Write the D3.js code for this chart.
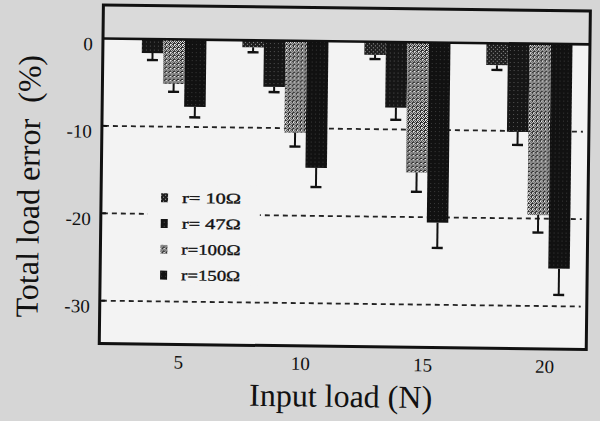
<!DOCTYPE html>
<html><head><meta charset="utf-8">
<script src="https://cdn.jsdelivr.net/npm/d3@7"></script>
<style>html,body{margin:0;padding:0;background:#d6d6d6;}svg{display:block;}</style>
</head><body>
<script>
// ---- data ----
const loads = [5, 10, 15, 20];
const seriesNames = ["r= 10Ω", "r= 47Ω", "r=100Ω", "r=150Ω"];
const r10  = [0, -0.8, -1.5, -2.5];
const r47  = [-1.6, -5.3, -7.5, -10.1];
const r100 = [-5.1, -10.5, -14.9, -19.6];
const r150 = [-7.7, -14.5, -20.6, -25.7];
const err10  = [0, 0.57, 0.47, 0.55];
const err47  = [0.8, 0.6, 1.4, 1.5];
const err100 = [0.9, 1.6, 2.2, 2.0];
const err150 = [1.2, 2.2, 2.9, 3.0];
const yTicks = [0, -10, -20, -30];
const refLines = [-10, -20, -30];
const xTitle = "Input load (N)";
const yTitle = "Total load error  (%)";

const values = [r10, r47, r100, r150];
const errors = [err10, err47, err100, err150];
const fills = ["url(#p10)", "url(#p47)", "url(#p100)", "url(#p150)"];

const W = 600, H = 421;
const L = 103, R = 590, T = 5, B = 343.5;
const font = "'Liberation Serif','Times New Roman',serif";

const svg = d3.select("body").append("svg").attr("width", W).attr("height", H);
svg.append("rect").attr("width", W).attr("height", H).attr("fill", "#d6d6d6");

// patterns (texture of the printed bars)
const defs = svg.append("defs");
function pat(id, bg, fg, dots) {
  const p = defs.append("pattern").attr("id", id).attr("patternUnits", "userSpaceOnUse")
    .attr("width", 4).attr("height", 4);
  p.append("rect").attr("width", 4).attr("height", 4).attr("fill", bg);
  dots.forEach(([dx, dy]) => p.append("rect").attr("x", dx).attr("y", dy)
    .attr("width", 1).attr("height", 1).attr("fill", fg));
}
pat("p10", "#1e1e1e", "#9a9a9a", [[1, 0], [3, 2]]);
pat("p47", "#151515", "#555", [[2, 1]]);
pat("p100", "#202020", "#f0f0f0", [[0, 0], [2, 0], [1, 1], [3, 1], [0, 2], [2, 3], [3, 3]]);
pat("p150", "#111", "#3a3a3a", [[0, 3]]);

const g = svg.append("g").attr("transform", "rotate(0.7,103,38)");

const y = d3.scaleLinear().domain([3.83, -34.9]).range([T, B]);
const x0 = d3.scaleBand().domain(loads).range([L, R]).paddingInner(0.295).paddingOuter(0.143);
const x1 = d3.scaleBand().domain(seriesNames).range([0, x0.bandwidth()]);

// plot background
g.append("rect").attr("x", L).attr("y", T).attr("width", R - L).attr("height", y(0) - T).attr("fill", "#dadada");
g.append("rect").attr("x", L).attr("y", y(0)).attr("width", R - L).attr("height", B - y(0)).attr("fill", "#f3f3f3");

// dashed reference lines
g.selectAll("line.ref").data(refLines).join("line").attr("class", "ref")
  .attr("x1", L + 2).attr("x2", R - 6)
  .attr("y1", d => y(d)).attr("y2", d => y(d))
  .attr("stroke", "#222").attr("stroke-width", 1.8).attr("stroke-dasharray", "5,4");

// legend background + entries
const lg = g.append("g");
lg.append("rect").attr("x", 150).attr("y", 184).attr("width", 112).attr("height", 100).attr("fill", "#f3f3f3");
seriesNames.forEach((s, i) => {
  const cy = 197 + i * 25.8;
  lg.append("rect").attr("x", 163).attr("y", cy - 4.5).attr("width", 7).attr("height", 9).attr("fill", fills[i]);
  lg.append("text").attr("x", 184).attr("y", cy + 5).text(s)
    .attr("font-family", font).attr("font-size", 15).attr("fill", "#111")
    .attr("stroke", "#111").attr("stroke-width", 0.35)
    .attr("textLength", 59).attr("lengthAdjust", "spacingAndGlyphs")
    .style("white-space", "pre");
});

// bars
seriesNames.forEach((s, i) => {
  const gs = g.append("g");
  gs.selectAll("rect").data(loads).join("rect")
    .attr("x", d => x0(d) + x1(s))
    .attr("width", x1.bandwidth())
    .attr("y", y(0))
    .attr("height", (d, j) => y(values[i][j]) - y(0))
    .attr("fill", fills[i]);
  const eb = loads.map((d, j) => ({ d, v: values[i][j], e: errors[i][j] })).filter(o => o.e > 0);
  const cx = o => x0(o.d) + x1(s) + x1.bandwidth() / 2;
  gs.selectAll("line.ev").data(eb).join("line").attr("class", "ev")
    .attr("x1", cx).attr("x2", cx)
    .attr("y1", o => y(o.v)).attr("y2", o => y(o.v - o.e))
    .attr("stroke", "#111").attr("stroke-width", 2);
  gs.selectAll("line.ec").data(eb).join("line").attr("class", "ec")
    .attr("x1", o => cx(o) - 5.5).attr("x2", o => cx(o) + 5.5)
    .attr("y1", o => y(o.v - o.e)).attr("y2", o => y(o.v - o.e))
    .attr("stroke", "#111").attr("stroke-width", 2.4);
});

// zero line
g.append("line").attr("x1", L).attr("x2", R).attr("y1", y(0)).attr("y2", y(0))
  .attr("stroke", "#111").attr("stroke-width", 2.6);

// frame
g.append("rect").attr("x", L).attr("y", T).attr("width", R - L).attr("height", B - T)
  .attr("fill", "none").attr("stroke", "#111").attr("stroke-width", 3);

// y ticks
g.selectAll("line.yt").data(yTicks.filter(d => d !== 0)).join("line").attr("class", "yt")
  .attr("x1", L).attr("x2", L + 5).attr("y1", d => y(d)).attr("y2", d => y(d))
  .attr("stroke", "#111").attr("stroke-width", 2);
g.selectAll("text.yl").data(yTicks).join("text").attr("class", "yl")
  .attr("x", 93).attr("y", d => y(d) + 12).attr("text-anchor", "end")
  .attr("font-family", font).attr("font-size", 19).attr("fill", "#111")
  .text(d => d === 0 ? "0" : "-" + Math.abs(d));

// x labels
g.selectAll("text.xl").data(loads).join("text").attr("class", "xl")
  .attr("x", d => x0(d) + x0.bandwidth() * 0.72).attr("y", 367.5).attr("text-anchor", "middle")
  .attr("font-family", font).attr("font-size", 19).attr("fill", "#111")
  .text(d => d);

// titles
g.append("text").attr("x", 345).attr("y", 404).attr("text-anchor", "middle")
  .attr("font-family", font).attr("font-size", 32).attr("fill", "#111").text(xTitle);
g.append("text").attr("transform", "translate(41,187) rotate(-90)").attr("text-anchor", "middle")
  .attr("font-family", font).attr("font-size", 32).attr("fill", "#111")
  .style("white-space", "pre").text(yTitle);
</script>
</body></html>
